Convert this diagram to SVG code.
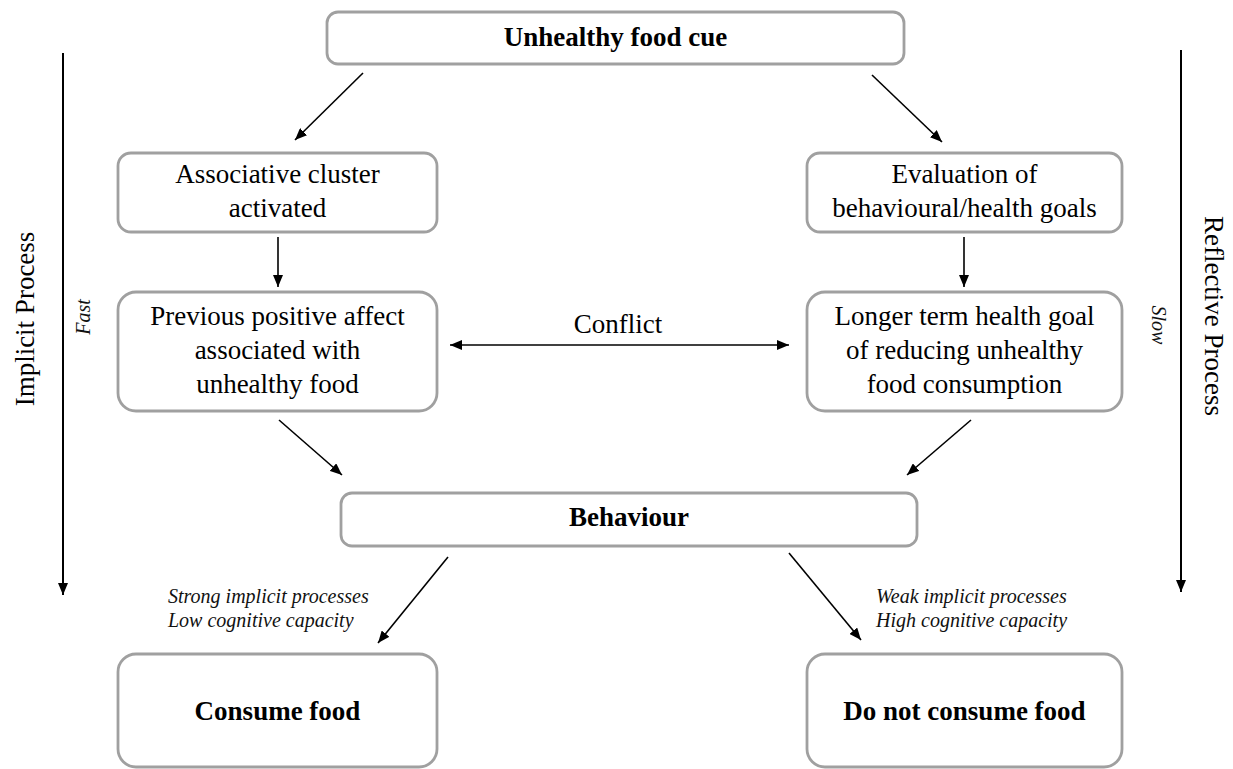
<svg xmlns="http://www.w3.org/2000/svg" width="1233" height="769" viewBox="0 0 1233 769">
  <defs>
    <marker id="ah" viewBox="0 0 12 10" refX="12" refY="5" markerWidth="12" markerHeight="10" markerUnits="userSpaceOnUse" orient="auto-start-reverse">
      <path d="M0,0 L12,5 L0,10 Z" fill="#000"/>
    </marker>
    <style>
      .box { fill: #fff; stroke: #a0a0a0; stroke-width: 2.8; }
      .t { font-family: "Liberation Serif", "Times New Roman", serif; font-size: 27px; fill: #000; text-anchor: middle; }
      .b { font-weight: bold; }
      .it { font-family: "Liberation Serif", "Times New Roman", serif; font-style: italic; font-size: 20px; fill: #111; }
      .c { stroke: #000; stroke-width: 1.6; fill: none; marker-end: url(#ah); }
      .axis { stroke: #000; stroke-width: 2; fill: none; marker-end: url(#ah); }
    </style>
  </defs>
  <rect width="1233" height="769" fill="#fff"/>

  <g id="node-cue">
    <rect class="box" x="327" y="12" width="577" height="52" rx="11"/>
    <text class="t b" x="615.5" y="46">Unhealthy food cue</text>
  </g>

  <g id="node-associative">
    <rect class="box" x="118" y="153" width="319" height="79" rx="13"/>
    <text class="t" x="277.5" y="183">Associative cluster</text>
    <text class="t" x="277.5" y="217">activated</text>
  </g>

  <g id="node-evaluation">
    <rect class="box" x="807" y="153" width="315" height="79" rx="13"/>
    <text class="t" x="964.5" y="183">Evaluation of</text>
    <text class="t" x="964.5" y="217">behavioural/health goals</text>
  </g>

  <g id="node-previous">
    <rect class="box" x="118" y="292" width="319" height="119" rx="18"/>
    <text class="t" x="277.5" y="325">Previous positive affect</text>
    <text class="t" x="277.5" y="359">associated with</text>
    <text class="t" x="277.5" y="393">unhealthy food</text>
  </g>

  <g id="node-longer">
    <rect class="box" x="807" y="292" width="315" height="119" rx="18"/>
    <text class="t" x="964.5" y="325">Longer term health goal</text>
    <text class="t" x="964.5" y="359">of reducing unhealthy</text>
    <text class="t" x="964.5" y="393">food consumption</text>
  </g>

  <g id="node-behaviour">
    <rect class="box" x="341" y="493" width="576" height="53" rx="11"/>
    <text class="t b" x="629" y="526">Behaviour</text>
  </g>

  <g id="node-consume">
    <rect class="box" x="118" y="654" width="319" height="113" rx="18"/>
    <text class="t b" x="277.5" y="720">Consume food</text>
  </g>

  <g id="node-notconsume">
    <rect class="box" x="807" y="654" width="315" height="113" rx="18"/>
    <text class="t b" x="964.5" y="720">Do not consume food</text>
  </g>

  <g id="side-labels">
    <text class="t" transform="translate(34,319) rotate(-90)">Implicit Process</text>
    <text class="it" text-anchor="middle" transform="translate(90,317) rotate(-90)">Fast</text>
    <text class="t" transform="translate(1205,316) rotate(90)">Reflective Process</text>
    <text class="it" text-anchor="middle" transform="translate(1152,325) rotate(90)">Slow</text>
  </g>

  <g id="connectors">
    <line class="axis" x1="63" y1="53" x2="63" y2="595"/>
    <line class="axis" x1="1181" y1="50" x2="1181" y2="592"/>
    <line class="c" x1="363" y1="73" x2="295" y2="140"/>
    <line class="c" x1="872" y1="75" x2="942" y2="142"/>
    <line class="c" x1="278" y1="237" x2="278" y2="287"/>
    <line class="c" x1="964" y1="237" x2="964" y2="287"/>
    <line class="c" x1="450" y1="345" x2="789" y2="345" marker-start="url(#ah)"/>
    <line class="c" x1="279" y1="420" x2="342" y2="475"/>
    <line class="c" x1="971" y1="420" x2="907" y2="475"/>
    <line class="c" x1="448" y1="557" x2="378" y2="643"/>
    <line class="c" x1="789" y1="553" x2="861" y2="640"/>
  </g>

  <g id="labels">
    <text class="t" x="618" y="333">Conflict</text>
    <text class="it" x="168" y="603">Strong implicit processes</text>
    <text class="it" x="168" y="627">Low cognitive capacity</text>
    <text class="it" x="876" y="603">Weak implicit processes</text>
    <text class="it" x="876" y="627">High cognitive capacity</text>
  </g>
</svg>
